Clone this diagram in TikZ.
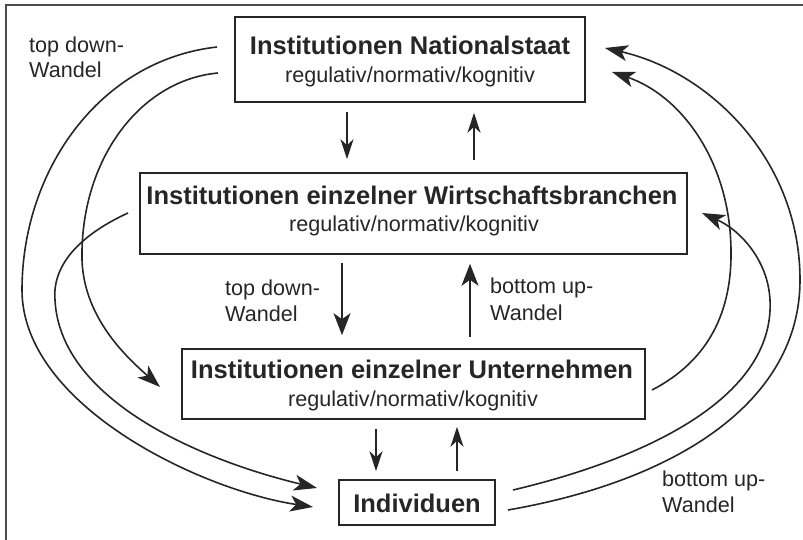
\documentclass[tikz,border=0pt]{standalone}
\usepackage{fontspec}
\setmainfont{Liberation Sans}
\usetikzlibrary{arrows.meta}
\begin{document}
\begin{tikzpicture}[x=1pt,y=-1pt,
  box/.style={draw=black!85,line width=1.6pt,inner sep=0pt,rectangle},
  ttl/.style={font=\fontsize{25.5}{30}\selectfont\bfseries,text=black!85,inner sep=0pt,anchor=base},
  sub/.style={font=\fontsize{21.6}{26}\selectfont,text=black!85,inner sep=0pt,anchor=base},
  lbl/.style={font=\fontsize{21.6}{26}\selectfont,text=black!85,inner sep=0pt,anchor=base west},
  sarr/.style={draw=black!85,line width=1.3pt,-{Stealth[length=20pt,width=13pt,inset=6pt]}},
  marr/.style={draw=black!85,line width=1.6pt,-{Stealth[length=22pt,width=17pt,inset=6pt]}},
  carr/.style={draw=black!85,line width=1.6pt,-{Stealth[length=23pt,width=16pt,inset=6pt]}},
  frame/.style={draw=black!70,line width=1.5pt}
  ]
\useasboundingbox (0,0) rectangle (803,540);
\draw[frame] (6,540) -- (6,5) -- (803,5);

% boxes
\node[box,minimum width=350pt,minimum height=85pt] (b1) at (410,59.5) {};
\node[box,minimum width=547pt,minimum height=81pt] (b2) at (413.5,213.5) {};
\node[box,minimum width=463pt,minimum height=70pt] (b3) at (413.5,384) {};
\node[box,minimum width=156pt,minimum height=45pt] (b4) at (417,502.5) {};

% box texts
\node[ttl] (t1) at (410,55) {Institutionen Nationalstaat};
\node[sub] (s1) at (410,83) {regulativ/normativ/kognitiv};
\node[ttl] (t2) at (412,205) {Institutionen einzelner Wirtschaftsbranchen};
\node[sub] (s2) at (414,232) {regulativ/normativ/kognitiv};
\node[ttl] (t3) at (412,378) {Institutionen einzelner Unternehmen};
\node[sub] (s3) at (413,406) {regulativ/normativ/kognitiv};
\node[ttl] (t4) at (417,512) {Individuen};

% labels
\node[lbl] (l1a) at (29,53) {top down-};
\node[lbl] (l1b) at (29,78) {Wandel};
\node[lbl] (l2a) at (225,295) {top down-};
\node[lbl] (l2b) at (225,321) {Wandel};
\node[lbl] (l3a) at (490,293) {bottom up-};
\node[lbl] (l3b) at (490,320) {Wandel};
\node[lbl] (l4a) at (662,486) {bottom up-};
\node[lbl] (l4b) at (662,512) {Wandel};

% vertical arrow positions
\coordinate (v1) at (347,0);
\coordinate (v2) at (474,0);
\coordinate (v3) at (342,0);
\coordinate (v4) at (470,0);
\coordinate (v5) at (376,0);
\coordinate (v6) at (457,0);

\draw[sarr,shorten <=9pt,shorten >=13pt] (b1.south -| v1) -- (b2.north -| v1);
\draw[sarr,shorten <=12pt,shorten >=10pt] (b2.north -| v2) -- (b1.south -| v2);
\draw[marr,shorten <=8pt,shorten >=13pt] (b2.south -| v3) -- (b3.north -| v3);
\draw[marr,shorten <=11pt,shorten >=9pt] (b3.north -| v4) -- (b2.south -| v4);
\draw[sarr,shorten <=9pt,shorten >=8pt] (b3.south -| v5) -- (b4.north -| v5);
\draw[sarr,shorten <=8pt,shorten >=7pt] (b4.north -| v6) -- (b3.south -| v6);

% curve ends
\coordinate (c1s) at (217,47);  \coordinate (c1e) at (313,507);
\coordinate (c2s) at (218,73);  \coordinate (c2e) at (160,387);
\coordinate (c3s) at (128,213); \coordinate (c3e) at (317,488);
\coordinate (c4s) at (652,390); \coordinate (c4e) at (612,72);
\coordinate (c5s) at (513,490); \coordinate (c5e) at (702,213);
\coordinate (c6s) at (508,510); \coordinate (c6e) at (605,48);

% left curves (top down)
\draw[carr] (c1s) .. controls (100,60) and (22,170) .. (22,290)
                  .. controls (22,405) and (200,490) .. (c1e);
\draw[carr] (c2s) .. controls (140,80) and (80,160) .. (82,260)
                  .. controls (84,320) and (130,360) .. (c2e);
\draw[carr] (c3s) .. controls (80,235) and (52,265) .. (55,300)
                  .. controls (60,400) and (200,460) .. (c3e);
% right curves (bottom up)
\draw[carr] (c4s) .. controls (710,360) and (732,310) .. (731,250)
                  .. controls (730,160) and (680,95) .. (c4e);
\draw[carr] (c5s) .. controls (640,460) and (775,400) .. (770,300)
                  .. controls (768,260) and (740,230) .. (c5e);
\draw[carr] (c6s) .. controls (680,480) and (800,400) .. (800,280)
                  .. controls (800,160) and (710,72) .. (c6e);
\end{tikzpicture}
\end{document}
